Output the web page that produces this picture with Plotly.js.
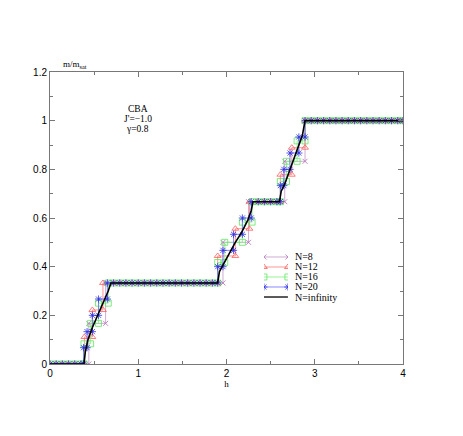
<!DOCTYPE html>
<html>
<head>
<meta charset="utf-8">
<script src="https://cdn.plot.ly/plotly-3.0.1.min.js"></script>
<style>
  html, body { margin: 0; padding: 0; background: #fff; }
  #chart { width: 463px; height: 436px; }
</style>
</head>
<body>
<div id="chart"></div>
<script>
// finite chains, step curves (h, m/m_sat)
const h8 = [0,0.07,0.14,0.21,0.28,0.35,0.44,0.44,0.63,0.63,0.72,0.79,0.86,0.93,1.0,1.07,1.14,1.21,1.28,1.35,1.42,1.49,1.56,1.63,1.70,1.77,1.84,1.96,1.96,2.25,2.25,2.36,2.43,2.5,2.57,2.66,2.66,2.89,2.89,2.96,3.03,3.1,3.17,3.24,3.31,3.38,3.45,3.52,3.59,3.66,3.73,3.8,3.87,3.94,4.0];
const m8 = [0,0,0,0,0,0,0,0.167,0.167,0.333,0.333,0.333,0.333,0.333,0.333,0.333,0.333,0.333,0.333,0.333,0.333,0.333,0.333,0.333,0.333,0.333,0.333,0.333,0.5,0.5,0.667,0.667,0.667,0.667,0.667,0.667,0.833,0.833,1,1,1,1,1,1,1,1,1,1,1,1,1,1,1,1,1];

const h12 = [0,0.07,0.14,0.21,0.28,0.35,0.39,0.39,0.48,0.48,0.60,0.60,0.72,0.79,0.86,0.93,1.0,1.07,1.14,1.21,1.28,1.35,1.42,1.49,1.56,1.63,1.70,1.77,1.84,1.90,1.90,2.10,2.10,2.26,2.26,2.36,2.43,2.5,2.57,2.61,2.61,2.74,2.74,2.89,2.89,2.96,3.03,3.1,3.17,3.24,3.31,3.38,3.45,3.52,3.59,3.66,3.73,3.8,3.87,3.94,4.0];
const m12 = [0,0,0,0,0,0,0,0.111,0.111,0.222,0.222,0.333,0.333,0.333,0.333,0.333,0.333,0.333,0.333,0.333,0.333,0.333,0.333,0.333,0.333,0.333,0.333,0.333,0.333,0.333,0.444,0.444,0.556,0.556,0.667,0.667,0.667,0.667,0.667,0.667,0.778,0.778,0.889,0.889,1,1,1,1,1,1,1,1,1,1,1,1,1,1,1,1,1];

const h16 = [0,0.07,0.14,0.21,0.28,0.35,0.385,0.385,0.46,0.46,0.55,0.55,0.66,0.66,0.72,0.79,0.86,0.93,1.0,1.07,1.14,1.21,1.28,1.35,1.42,1.49,1.56,1.63,1.70,1.77,1.84,1.90,1.90,1.98,1.98,2.18,2.18,2.29,2.29,2.36,2.43,2.5,2.57,2.61,2.61,2.68,2.68,2.80,2.80,2.89,2.89,2.96,3.03,3.1,3.17,3.24,3.31,3.38,3.45,3.52,3.59,3.66,3.73,3.8,3.87,3.94,4.0];
const m16 = [0,0,0,0,0,0,0,0.083,0.083,0.167,0.167,0.25,0.25,0.333,0.333,0.333,0.333,0.333,0.333,0.333,0.333,0.333,0.333,0.333,0.333,0.333,0.333,0.333,0.333,0.333,0.333,0.333,0.417,0.417,0.5,0.5,0.583,0.583,0.667,0.667,0.667,0.667,0.667,0.667,0.75,0.75,0.833,0.833,0.917,0.917,1,1,1,1,1,1,1,1,1,1,1,1,1,1,1,1,1];

const h20 = [0,0.07,0.14,0.21,0.28,0.35,0.38,0.38,0.42,0.42,0.48,0.48,0.55,0.55,0.65,0.65,0.72,0.79,0.86,0.93,1.0,1.07,1.14,1.21,1.28,1.35,1.42,1.49,1.56,1.63,1.70,1.77,1.84,1.90,1.90,1.96,1.96,2.08,2.08,2.18,2.18,2.28,2.28,2.36,2.43,2.5,2.57,2.61,2.61,2.65,2.65,2.72,2.72,2.82,2.82,2.89,2.89,2.96,3.03,3.1,3.17,3.24,3.31,3.38,3.45,3.52,3.59,3.66,3.73,3.8,3.87,3.94,4.0];
const m20 = [0,0,0,0,0,0,0,0.067,0.067,0.133,0.133,0.2,0.2,0.267,0.267,0.333,0.333,0.333,0.333,0.333,0.333,0.333,0.333,0.333,0.333,0.333,0.333,0.333,0.333,0.333,0.333,0.333,0.333,0.333,0.4,0.4,0.467,0.467,0.533,0.533,0.6,0.6,0.667,0.667,0.667,0.667,0.667,0.667,0.733,0.733,0.8,0.8,0.867,0.867,0.933,0.933,1,1,1,1,1,1,1,1,1,1,1,1,1,1,1,1,1];

// thermodynamic limit
const hInf = [0,0.385,0.40,0.43,0.48,0.54,0.60,0.66,0.69,1.90,1.92,1.98,2.04,2.10,2.17,2.24,2.28,2.30,2.60,2.62,2.66,2.70,2.76,2.81,2.86,2.89,4.0];
const mInf = [0,0,0.05,0.10,0.15,0.20,0.25,0.30,0.333,0.333,0.38,0.42,0.455,0.50,0.54,0.59,0.63,0.667,0.667,0.71,0.74,0.78,0.84,0.89,0.94,1.0,1.0];

const seriesNames = ['N=8', 'N=12', 'N=16', 'N=20', 'N=infinity'];
const seriesColors = ['#c496c8', '#ff7a7a', '#7cf07c', '#6a6aff', '#000000'];
const markerLines = ['#b070b8', '#ff5c5c', '#5ee85e', '#3030e0', '#000000'];
const seriesSymbols = ['x-thin-open', 'triangle-up-open', 'square-open', 'asterisk-open', null];

const xs = [h8, h12, h16, h20, hInf];
const ys = [m8, m12, m16, m20, mInf];

const serif = 'Liberation Serif, Times New Roman, serif';
const sans = 'Liberation Sans, Arial, sans-serif';

const traces = [];
const annotations = [];

seriesNames.forEach(function(name, i) {
  const isInf = seriesSymbols[i] === null;
  const tr = {
    x: xs[i], y: ys[i], type: 'scatter',
    mode: isInf ? 'lines' : 'lines+markers',
    line: { color: seriesColors[i], width: isInf ? 1.6 : 0.8 },
    hoverinfo: 'skip'
  };
  if (!isInf) {
    tr.marker = { symbol: seriesSymbols[i], size: i === 0 ? 5 : 6, color: markerLines[i], line: { width: 0.8, color: markerLines[i] } };
  }
  traces.push(tr);

  // legend sample on its own little axis pair
  const row = seriesNames.length - 1 - i;
  const lt = {
    x: [0, 1], y: [row, row], xaxis: 'x2', yaxis: 'y2', type: 'scatter',
    mode: isInf ? 'lines' : 'lines+markers',
    line: { color: seriesColors[i], width: isInf ? 1.3 : 0.8 },
    hoverinfo: 'skip'
  };
  if (!isInf) lt.marker = tr.marker;
  traces.push(lt);
  annotations.push({
    xref: 'x2', yref: 'y2', x: 1, y: row, xanchor: 'left', yanchor: 'middle', xshift: 5,
    text: name, showarrow: false, font: { family: serif, size: 10, color: '#000' }
  });
});

const infoLines = ['CBA', "J'=\u22121.0", '\u03b3=0.8'];
const infoY = [0.873, 0.838, 0.804];
infoLines.forEach(function(t, i) {
  annotations.push({ xref: 'paper', yref: 'paper', x: 0.249, y: infoY[i], xanchor: 'center', yanchor: 'middle',
    text: t, showarrow: false, font: { family: serif, size: 9.5, color: '#000' } });
});

annotations.push({ xref: 'paper', yref: 'paper', x: 0.03, y: 1.025, xanchor: 'left', yanchor: 'middle',
  text: 'm/m<sub>sat</sub>', showarrow: false, font: { family: serif, size: 9, color: '#000' } });

const axisStyle = {
  showgrid: false, zeroline: false, showline: true, mirror: 'ticks',
  linecolor: '#777', linewidth: 1, ticks: 'inside', ticklen: 5, tickcolor: '#777',
  tickfont: { family: sans, size: 10, color: '#000' }
};

const layout = {
  width: 463, height: 436,
  margin: { l: 50, r: 60, t: 72, b: 72 },
  paper_bgcolor: '#fff', plot_bgcolor: '#fff',
  showlegend: false,
  xaxis: Object.assign({}, axisStyle, {
    range: [0, 4], dtick: 1, tick0: 0,
    minor: { ticks: 'inside', dtick: 0.5, ticklen: 3, tickcolor: '#777' },
    title: { text: 'h', font: { family: serif, size: 9, color: '#000' }, standoff: 2 }
  }),
  yaxis: Object.assign({}, axisStyle, {
    range: [0, 1.2], dtick: 0.2, tick0: 0,
    minor: { ticks: 'inside', dtick: 0.1, ticklen: 3, tickcolor: '#777' }
  }),
  xaxis2: { domain: [0.606, 0.674], range: [0, 1], anchor: 'y2', visible: false, fixedrange: true },
  yaxis2: { domain: [0.2123, 0.3836], range: [-0.5, 4.5], anchor: 'x2', visible: false, fixedrange: true },
  annotations: annotations
};

Plotly.newPlot('chart', traces, layout, { staticPlot: true, displayModeBar: false });
</script>
</body>
</html>
